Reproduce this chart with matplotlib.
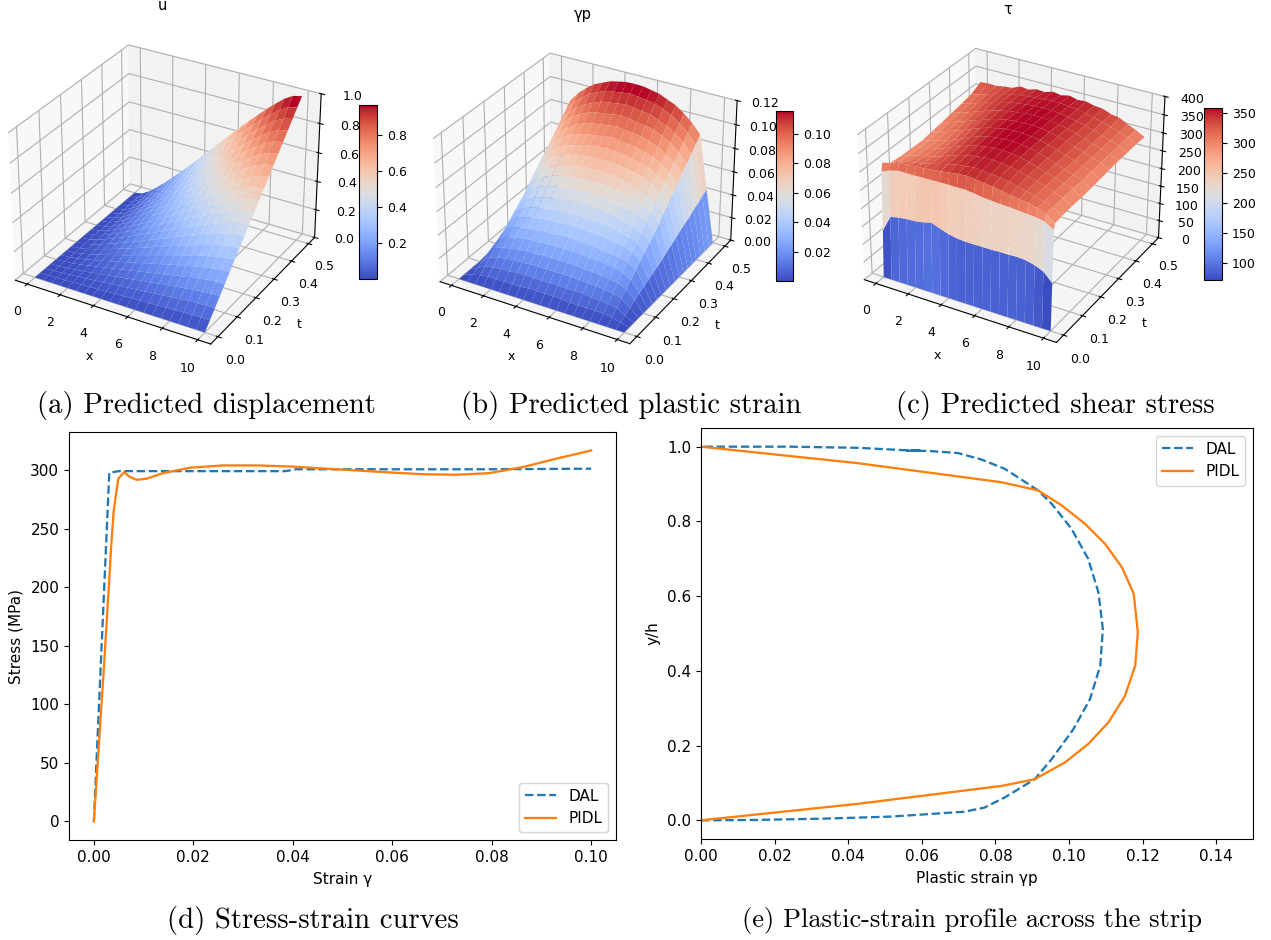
import numpy as np
import matplotlib
matplotlib.use("Agg")
import matplotlib.pyplot as plt

W, H = 1271, 940

# surface grids, values
x_grid = [0, 0.5, 1, 1.5, 2, 2.5, 3, 3.5, 4, 4.5, 5, 5.5, 6, 6.5, 7, 7.5, 8, 8.5, 9, 9.5, 10]
t_grid = [0, 0.025, 0.05, 0.075, 0.1, 0.125, 0.15, 0.175, 0.2, 0.225, 0.25, 0.275, 0.3, 0.325, 0.35, 0.375, 0.4,
          0.425, 0.45, 0.475, 0.5]
t_grid_tau = [0, 0.005, 0.01, 0.015, 0.05, 0.1, 0.15, 0.2, 0.25, 0.3, 0.35, 0.4, 0.45, 0.5]

u_table = [
    [0] * 21,
    [0, .001, .002, .005, .007, .010, .013, .016, .019, .022, .025, .028, .031, .034, .037, .040, .043, .045, .048, .049, .050],
    [0, .001, .005, .010, .015, .020, .026, .032, .038, .044, .050, .056, .062, .068, .074, .080, .085, .090, .095, .099, .100],
    [0, .002, .007, .014, .022, .030, .039, .048, .057, .066, .075, .084, .093, .102, .111, .120, .128, .136, .143, .148, .150],
    [0, .003, .010, .019, .030, .041, .052, .064, .076, .088, .100, .112, .124, .136, .148, .159, .170, .181, .190, .197, .200],
    [0, .003, .012, .024, .037, .051, .065, .080, .095, .110, .125, .140, .156, .171, .185, .199, .213, .226, .238, .247, .250],
    [0, .004, .014, .029, .044, .061, .078, .095, .113, .132, .150, .168, .187, .205, .222, .239, .256, .271, .286, .296, .300],
    [0, .005, .017, .034, .052, .071, .091, .111, .132, .154, .175, .196, .218, .239, .259, .279, .298, .316, .333, .345, .350],
    [0, .005, .019, .038, .059, .081, .104, .127, .151, .176, .200, .224, .249, .273, .296, .319, .341, .362, .381, .395, .400],
    [0, .006, .022, .043, .067, .091, .117, .143, .170, .198, .225, .252, .280, .307, .333, .359, .383, .407, .428, .444, .450],
    [0, .007, .024, .048, .074, .102, .130, .159, .189, .220, .250, .281, .311, .341, .370, .399, .426, .452, .476, .494, .500],
    [0, .007, .026, .053, .081, .112, .143, .175, .208, .241, .275, .309, .342, .375, .407, .438, .469, .497, .524, .543, .550],
    [0, .008, .029, .058, .089, .122, .156, .191, .227, .263, .300, .337, .373, .409, .444, .478, .511, .542, .571, .592, .600],
    [0, .008, .031, .062, .096, .132, .169, .207, .246, .285, .325, .365, .404, .443, .481, .518, .554, .588, .619, .642, .650],
    [0, .009, .034, .067, .104, .142, .182, .223, .265, .307, .350, .393, .435, .477, .518, .558, .596, .633, .666, .691, .700],
    [0, .010, .036, .072, .111, .152, .195, .239, .284, .329, .375, .421, .467, .512, .555, .598, .639, .678, .714, .740, .750],
    [0, .010, .038, .077, .118, .162, .208, .254, .302, .351, .400, .449, .498, .546, .592, .638, .682, .723, .762, .790, .800],
    [0, .011, .041, .082, .126, .173, .221, .270, .321, .373, .425, .477, .529, .580, .629, .677, .724, .768, .809, .839, .850],
    [0, .012, .043, .086, .133, .183, .234, .286, .340, .395, .450, .505, .560, .614, .666, .717, .767, .814, .857, .888, .900],
    [0, .012, .046, .091, .141, .193, .247, .302, .359, .417, .475, .533, .591, .648, .703, .757, .809, .859, .904, .938, .950],
    [0, .013, .048, .096, .148, .203, .260, .318, .378, .439, .500, .561, .622, .682, .740, .797, .852, .904, .952, .987, 1.0],
]

# left half of the strip, the profile is symmetric about x = 5
gp_half = [
    [0] * 11,
    [0, .002, .004, .005, .005, .005, .005, .005, .006, .006, .006],
    [0, .004, .008, .009, .010, .010, .011, .011, .011, .011, .011],
    [0, .0065, .012, .014, .015, .016, .016, .017, .017, .017, .017],
    [0, .009, .016, .019, .020, .021, .022, .022, .023, .023, .023],
    [0, .011, .020, .024, .026, .027, .028, .028, .029, .029, .029],
    [0, .013, .025, .029, .031, .032, .033, .034, .034, .035, .035],
    [0, .015, .029, .034, .036, .038, .039, .040, .040, .041, .041],
    [0, .017, .033, .038, .041, .043, .044, .045, .046, .046, .047],
    [0, .019, .037, .043, .046, .048, .050, .051, .052, .052, .053],
    [0, .021, .041, .048, .052, .054, .056, .057, .058, .059, .059],
    [0, .024, .046, .053, .057, .060, .062, .063, .064, .065, .065],
    [0, .026, .051, .058, .062, .065, .067, .069, .070, .071, .071],
    [0, .028, .056, .063, .068, .071, .073, .075, .076, .077, .077],
    [0, .031, .061, .068, .073, .076, .078, .080, .082, .082, .083],
    [0, .033, .065, .073, .078, .082, .084, .086, .087, .088, .089],
    [0, .035, .070, .078, .083, .087, .090, .092, .093, .094, .095],
    [0, .038, .075, .083, .089, .093, .096, .098, .099, .100, .101],
    [0, .040, .080, .088, .094, .098, .101, .104, .105, .106, .107],
    [0, .043, .085, .093, .099, .104, .107, .110, .111, .112, .113],
    [0, .045, .090, .098, .104, .109, .112, .115, .1165, .1178, .118],
]

tau_table = [
    [0] * 21,
    [130, 175, 180, 183, 184, 188, 194, 185, 177, 172, 170, 170, 170, 170, 171, 171, 172, 170, 164, 154, 130],
    [290, 300, 306, 306, 306, 307, 307, 308, 308, 308, 308, 305, 301, 299, 297, 296, 294, 292, 290, 285, 270],
    [312, 318, 325, 326, 328, 330, 332, 335, 338, 341, 343, 340, 337, 334, 330, 326, 322, 318, 312, 305, 285],
    [296, 305, 312, 316, 320, 326, 332, 338, 343, 346, 349, 348, 345, 342, 338, 332, 326, 320, 312, 304, 288],
    [292, 300, 306, 311, 316, 324, 332, 340, 346, 350, 353, 353, 351, 348, 342, 336, 329, 322, 314, 305, 289],
    [291, 299, 305, 310, 317, 326, 335, 343, 349, 353, 356, 356, 354, 350, 344, 337, 330, 322, 314, 305, 289],
    [290, 298, 304, 310, 318, 328, 338, 346, 352, 356, 358, 358, 356, 352, 346, 338, 330, 322, 314, 305, 290],
    [294, 301, 308, 315, 323, 332, 341, 348, 353, 357, 358, 358, 356, 352, 346, 339, 331, 323, 314, 306, 292],
    [298, 305, 312, 320, 328, 336, 344, 350, 354, 357, 358, 358, 356, 352, 346, 339, 331, 323, 315, 307, 294],
    [303, 310, 317, 325, 333, 340, 346, 351, 354, 356, 358, 357, 355, 351, 346, 339, 331, 324, 316, 308, 296],
    [308, 314, 322, 330, 337, 343, 348, 351, 354, 356, 357, 356, 354, 350, 345, 339, 332, 325, 317, 309, 296],
    [314, 319, 326, 333, 338, 344, 347, 350, 352, 354, 355, 355, 352, 350, 345, 340, 333, 326, 318, 310, 297],
    [328, 330, 329, 333, 335, 345, 342, 349, 347, 354, 350, 355, 349, 351, 345, 343, 334, 330, 318, 308, 295],
]

u_ticks = [0, 0.2, 0.4, 0.6, 0.8, 1.0]
gp_ticks = [0, 0.02, 0.04, 0.06, 0.08, 0.10, 0.12]
tau_ticks = [0, 50, 100, 150, 200, 250, 300, 350, 400]

# stress-strain curves
dal_strain = [0, 0.0031, 0.005, 0.02, 0.0385, 0.0407, 0.06, 0.08, 0.1]
dal_stress = [0, 298, 299.4, 299.4, 299.4, 301, 301, 301, 301.5]
pidl_strain = [0, 0.001, 0.002, 0.003, 0.00355, 0.004, 0.0049, 0.0061, 0.0072, 0.0086, 0.0106, 0.0139, 0.0193, 0.026,
               0.0327, 0.0394, 0.046, 0.0527, 0.0594, 0.0661, 0.0728, 0.0795, 0.0862, 0.0929, 0.1]
pidl_stress = [0, 65, 130, 200, 240, 266, 292.9, 298.6, 294.5, 292, 292.9, 297.7, 302.3, 304.3,
               304.3, 303.4, 301.7, 300, 298.3, 296.8, 296.3, 297.7, 302.8, 310, 317]

# plastic strain profile
dal_gp = [0, 0.015, 0.0334, 0.0516, 0.0716, 0.077, 0.0825, 0.0907, 0.0953, 0.1012, 0.1057, 0.1085, 0.1092, 0.108,
          0.1052, 0.1007, 0.0953, 0.0916, 0.0825, 0.0761, 0.0698, 0.062, 0.056, 0.06, 0.0555, 0.0425, 0.0243, 0]
dal_y = [0, 0.001, 0.0045, 0.01, 0.023, 0.034, 0.061, 0.11, 0.164, 0.244, 0.324, 0.414, 0.512, 0.61,
         0.70, 0.78, 0.847, 0.883, 0.941, 0.966, 0.983, 0.9885, 0.9893, 0.9895, 0.9905, 0.997, 1.0, 1.0]
pidl_gp = [0, 0.0425, 0.0816, 0.0907, 0.0989, 0.1052, 0.1107, 0.1152, 0.118, 0.1187, 0.1176, 0.1144, 0.1098,
           0.1043, 0.098, 0.0916, 0.0816, 0.0425, 0]
pidl_y = [0, 0.044, 0.092, 0.11, 0.155, 0.204, 0.262, 0.333, 0.414, 0.503, 0.606, 0.677, 0.74,
          0.794, 0.843, 0.883, 0.905, 0.956, 1.0]


def box(left, top, right, bottom):
    return [left / W, 1 - bottom / H, (right - left) / W, (bottom - top) / H]


def surface(fig, center, size, cpos, t_vals, table, zlim, zticks, zfmt, zpad, title, title_x, title_y):
    cx, cy = center
    ax = fig.add_axes(box(cx - size / 2, cy - size / 2, cx + size / 2, cy + size / 2), projection="3d")
    X, T = np.meshgrid(x_grid, t_vals)
    surf = ax.plot_surface(X, T, np.array(table, dtype=float), cmap="coolwarm", rcount=100, ccount=100, linewidth=0)
    ax.set_zlim(*zlim)
    ax.set_zticks(zticks)
    ax.set_zticklabels([zfmt % v for v in zticks])
    ax.set_xticks([0, 2, 4, 6, 8, 10])
    ax.set_yticks([0, 0.1, 0.2, 0.3, 0.4, 0.5])
    ax.set_xlabel("x", labelpad=2, fontsize=9)
    ax.set_ylabel("t", labelpad=2, fontsize=9)
    ax.tick_params(labelsize=9, pad=3)
    ax.tick_params(axis="z", pad=zpad)
    ax.patch.set_alpha(0)
    cax = fig.add_axes(box(*cpos))
    cb = fig.colorbar(surf, cax=cax)
    cb.ax.tick_params(labelsize=9)
    fig.text(title_x / W, 1 - title_y / H, title, ha="center", va="center", fontsize=10.5)
    return ax


fig = plt.figure(figsize=(W / 100, H / 100), dpi=100)

gp_table = np.hstack([np.array(gp_half), np.array(gp_half)[:, -2::-1]])

surface(fig, (163, 192), 348, (359, 105, 377, 279), t_grid, u_table, (0, 1), u_ticks, "%.1f", 5.5, "u", 162, 5)
surface(fig, (583.5, 196), 338, (776, 111, 793, 281), t_grid, gp_table, (0, 0.12), gp_ticks, "%.2f", 4, "γp", 583, 15)
surface(fig, (1009.5, 193), 342, (1204, 108, 1222, 280), t_grid_tau, tau_table, (0, 400), tau_ticks, "%d", 4, "τ", 1008, 9)

captions = ["(a) Predicted displacement", "(b) Predicted plastic strain", "(c) Predicted shear stress",
            "(d) Stress-strain curves", "(e) Plastic-strain profile across the strip"]
caption_x = [206, 631.5, 1055.5, 313, 971.5]
caption_y = [405, 405, 405, 920, 920]
caption_size = [20.7, 20.7, 20.7, 20.7, 19]
for txt, cx, cy, fs in zip(captions, caption_x, caption_y, caption_size):
    fig.text(cx / W, 1 - cy / H, txt, family="cmr10", fontsize=fs, ha="center", va="center")

ax4 = fig.add_axes(box(69, 432, 616, 840))
ax4.plot(dal_strain, dal_stress, "--", lw=1.65, label="DAL")
ax4.plot(pidl_strain, pidl_stress, lw=1.65, label="PIDL")
ax4.set_xlabel("Strain γ", fontsize=11, labelpad=5)
ax4.set_ylabel("Stress (MPa)", fontsize=11, labelpad=5)
ax4.tick_params(labelsize=11)
ax4.legend(loc="lower right", fontsize=11)

ax5 = fig.add_axes(box(701, 428, 1253, 839))
ax5.plot(dal_gp, dal_y, "--", lw=1.65, label="DAL")
ax5.plot(pidl_gp, pidl_y, lw=1.65, label="PIDL")
ax5.set_xlim(0, 0.15)
ax5.set_xlabel("Plastic strain γp", fontsize=11, labelpad=5)
ax5.set_ylabel("y/h", fontsize=11, labelpad=5)
ax5.tick_params(labelsize=11)
ax5.legend(loc="upper right", fontsize=11)

fig.savefig("out.png", dpi=100)
